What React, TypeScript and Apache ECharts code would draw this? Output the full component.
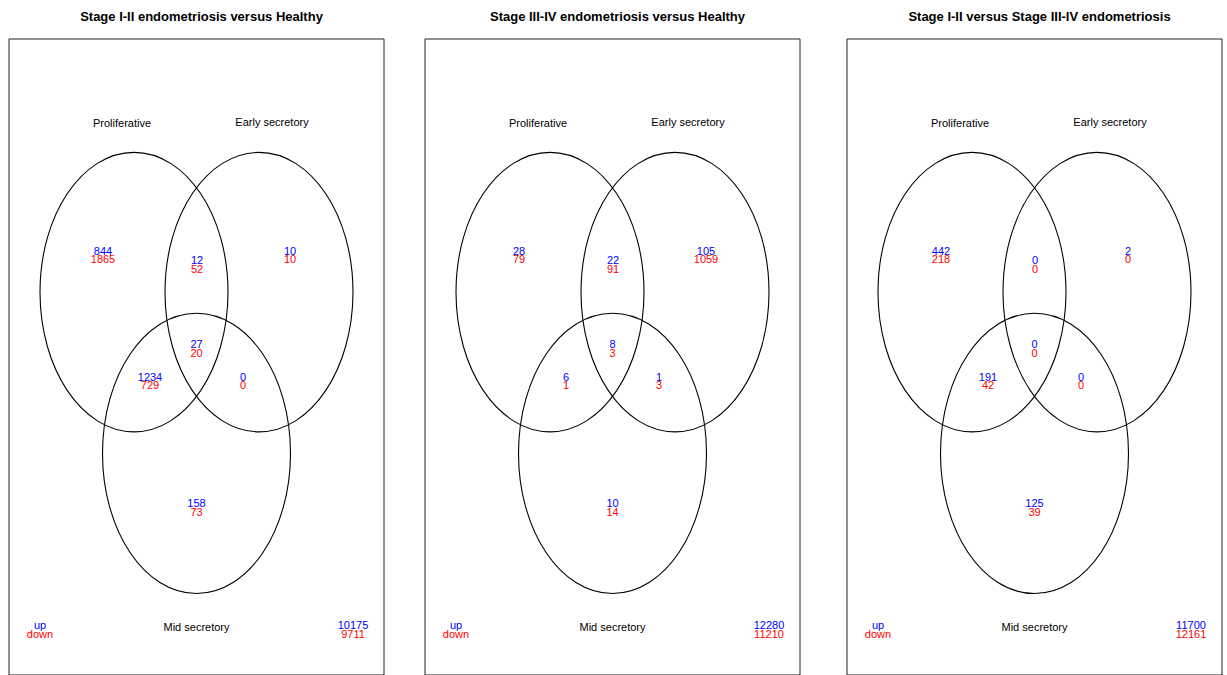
import React, { useEffect, useRef } from "react";
import * as echarts from "echarts";

// ---------- data ----------
const panelTitles = [
  "Stage I-II endometriosis versus Healthy",
  "Stage III-IV endometriosis versus Healthy",
  "Stage I-II versus Stage III-IV endometriosis",
];
const setNames = ["Proliferative", "Early secretory", "Mid secretory"];
const regionNames = [
  "Proliferative only",
  "Proliferative & Early secretory",
  "Early secretory only",
  "Proliferative & Mid secretory",
  "All three",
  "Early & Mid secretory",
  "Mid secretory only",
];
const upCounts1 = [844, 12, 10, 1234, 27, 0, 158];
const downCounts1 = [1865, 52, 10, 729, 20, 0, 73];
const upCounts2 = [28, 22, 105, 6, 8, 1, 10];
const downCounts2 = [79, 91, 1059, 1, 3, 3, 14];
const upCounts3 = [442, 0, 2, 191, 0, 0, 125];
const downCounts3 = [218, 0, 0, 42, 0, 0, 39];
const upTotals = [10175, 12280, 11700];
const downTotals = [9711, 11210, 12161];
const legendLabels = ["up", "down"];

// ---------- layout (panel-relative units) ----------
const panelLefts = [9, 425, 847];
const panelWidth = 375;
const panelHeight = 640;
const panelTop = 39;
const ellipseGeom = [
  [125, 254.7, 94, 140.6],
  [250, 254.7, 94, 140.6],
  [187.5, 417, 94, 141],
];
const setLabelPos = [
  [113, 85],
  [263, 84],
  [187.5, 592],
];
const regionPos = [
  [94, 213],
  [188, 222.5],
  [281, 213],
  [141, 340],
  [187.5, 307],
  [234, 340],
  [187.5, 467],
];
const legendPos = [31, 590];
const totalPos = [344, 590];
const lineGap = 8.5;

const UP_COLOR = "#0000FF";
const DOWN_COLOR = "#FF0000";
const FONT = "'Liberation Sans', Arial, Helvetica, sans-serif";

const upAll = [upCounts1, upCounts2, upCounts3];
const downAll = [downCounts1, downCounts2, downCounts3];

export default function App() {
  const ref = useRef<HTMLDivElement>(null);
  useEffect(() => {
    if (!ref.current) return;
    const chart = echarts.init(ref.current, null, { renderer: "svg" });

    const grids: any[] = [];
    const xAxes: any[] = [];
    const yAxes: any[] = [];
    const series: any[] = [];
    const titles: any[] = [];

    panelLefts.forEach((left, i) => {
      grids.push({
        left,
        top: panelTop,
        width: panelWidth,
        height: panelHeight,
        show: true,
        borderColor: "#222",
        borderWidth: 1,
        backgroundColor: "transparent",
      });
      xAxes.push({ type: "value", gridIndex: i, min: 0, max: panelWidth, show: false });
      yAxes.push({ type: "value", gridIndex: i, min: 0, max: panelHeight, inverse: true, show: false });
      titles.push({
        text: panelTitles[i],
        left: left + panelWidth / 2,
        textAlign: "center",
        top: 5,
        textStyle: { fontFamily: FONT, fontSize: 13, fontWeight: "bold", color: "#000" },
      });

      // ellipses
      series.push({
        type: "custom",
        name: "sets",
        xAxisIndex: i,
        yAxisIndex: i,
        clip: false,
        data: setNames.map((n, k) => ({ name: n, value: ellipseGeom[k] })),
        renderItem: (params: any, api: any) => {
          const c = api.coord([api.value(0), api.value(1)]);
          const s = api.size([api.value(2), api.value(3)]);
          return {
            type: "ellipse",
            shape: { cx: c[0], cy: c[1], rx: s[0], ry: s[1] },
            style: { fill: "none", stroke: "#000", lineWidth: 1.1 },
          };
        },
      });

      const textSeries = (name: string, items: any[]) => ({
        type: "custom",
        name,
        xAxisIndex: i,
        yAxisIndex: i,
        clip: false,
        data: items,
        renderItem: (params: any, api: any) => {
          const it = items[params.dataIndex];
          const c = api.coord([it.value[0], it.value[1]]);
          return {
            type: "text",
            x: c[0],
            y: c[1] + (it.dy || 0),
            style: {
              text: String(it.label),
              fill: it.color,
              font: `11px ${FONT}`,
              align: it.align || "center",
              verticalAlign: "middle",
            },
          };
        },
      });

      // set labels
      series.push(
        textSeries(
          "set labels",
          setNames.map((n, k) => ({ name: n, value: setLabelPos[k], label: n, color: "#000" }))
        )
      );
      // red (down) first so blue (up) drawn on top
      series.push(
        textSeries(
          "down",
          regionNames.map((n, k) => ({
            name: n,
            value: regionPos[k],
            label: downAll[i][k],
            color: DOWN_COLOR,
            dy: lineGap,
          }))
        )
      );
      series.push(
        textSeries(
          "up",
          regionNames.map((n, k) => ({
            name: n,
            value: regionPos[k],
            label: upAll[i][k],
            color: UP_COLOR,
          }))
        )
      );
      // legend words and totals
      series.push(
        textSeries("legend", [
          { name: "down", value: legendPos, label: legendLabels[1], color: DOWN_COLOR, dy: lineGap },
          { name: "up", value: legendPos, label: legendLabels[0], color: UP_COLOR },
          { name: "down total", value: totalPos, label: downTotals[i], color: DOWN_COLOR, dy: lineGap },
          { name: "up total", value: totalPos, label: upTotals[i], color: UP_COLOR },
        ])
      );
    });

    chart.setOption({
      animation: false,
      backgroundColor: "#fff",
      title: titles,
      grid: grids,
      xAxis: xAxes,
      yAxis: yAxes,
      series,
    });
    return () => chart.dispose();
  }, []);

  return (
    <div
      ref={ref}
      style={{ position: "fixed", left: 0, top: 0, width: 1227, height: 675, background: "#fff" }}
    />
  );
}
